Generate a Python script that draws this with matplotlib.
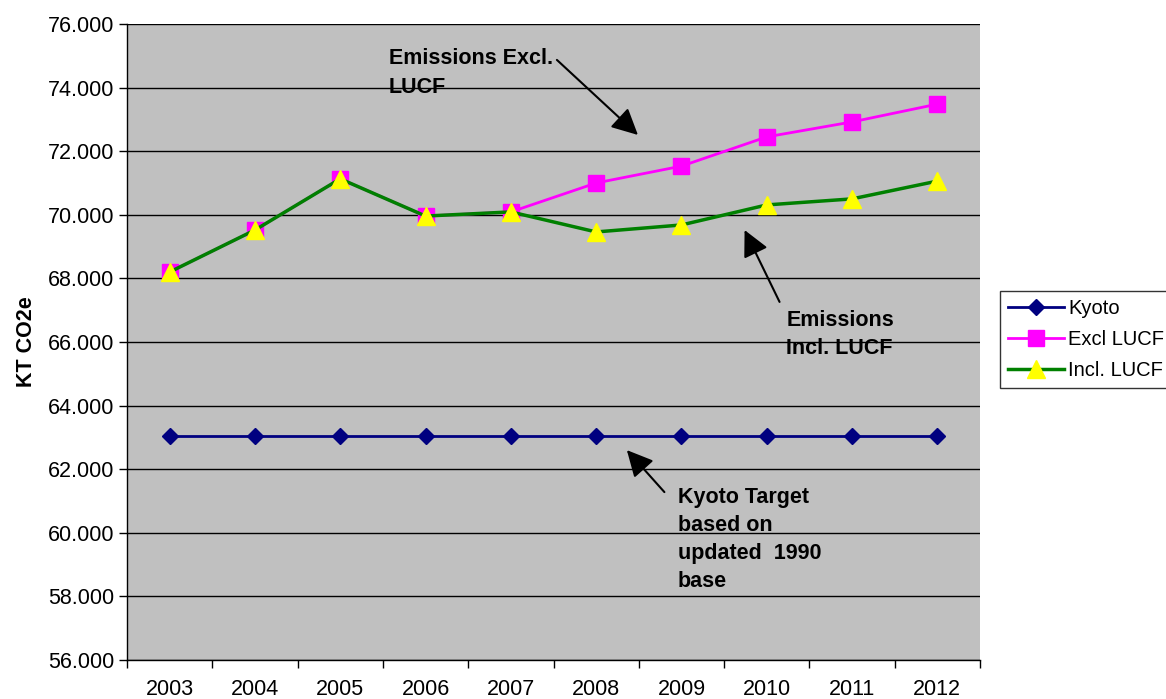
import numpy as np
import matplotlib.pyplot as plt
from matplotlib.ticker import FuncFormatter, FixedLocator

plt.rcParams['font.family'] = ['Liberation Sans', 'DejaVu Sans']

# Emissions series (kt CO2e)
years = ['2003', '2004', '2005', '2006', '2007', '2008', '2009', '2010', '2011', '2012']
kyoto = [63030] * 10
excl_lucf = [68200, 69520, 71130, 69960, 70090, 71000, 71530, 72450, 72920, 73480]
incl_lucf = [68200, 69520, 71130, 69960, 70090, 69460, 69680, 70310, 70500, 71060]

fs = 15.5

fig = plt.figure(figsize=(11.66, 6.99), dpi=100)
ax = fig.add_axes([0.1089, 0.0558, 0.7316, 0.9099])
ax.set_facecolor('#c0c0c0')

x = np.arange(len(years))
ax.plot(x, kyoto, color='#000080', lw=2, marker='D', ms=8, label='Kyoto')
ax.plot(x, excl_lucf, color='#ff00ff', lw=2, marker='s', ms=11, label='Excl LUCF')
ax.plot(x, incl_lucf, color='#008000', lw=2.5, marker='^', ms=13,
        mfc='#ffff00', mec='#ffff00', label='Incl. LUCF')

ax.set_xlim(-0.5, 9.5)
ax.set_ylim(56000, 76000)
ax.set_yticks(np.arange(56000, 76001, 2000))
ax.yaxis.set_major_formatter(FuncFormatter(lambda v, p: f'{v:,.0f}'.replace(',', '.')))
ax.grid(axis='y', color='black', lw=1)
ax.set_axisbelow(True)

ax.set_xticks(x)
ax.set_xticklabels(years)
ax.xaxis.set_minor_locator(FixedLocator(np.arange(-0.5, 10, 1)))
ax.tick_params(axis='x', which='major', length=0, pad=14, labelsize=fs)
ax.tick_params(axis='x', which='minor', length=6, width=1)
ax.tick_params(axis='y', length=6, width=1, labelsize=fs, pad=3)

for s in ['top', 'right']:
    ax.spines[s].set_visible(False)
for s in ['left', 'bottom']:
    ax.spines[s].set_color('black')
    ax.spines[s].set_linewidth(1)

ax.set_ylabel('KT CO2e', fontsize=fs, fontweight='bold', labelpad=8)

arrow = dict(arrowstyle='-|>', mutation_scale=40, color='black', lw=1.5, shrinkA=0, shrinkB=0)
ax.annotate('', xy=(5.49, 72510), xytext=(4.54, 74870), arrowprops=arrow)
ax.text(2.57, 75230, 'Emissions Excl.\nLUCF', fontsize=fs, fontweight='bold',
        va='top', ha='left', linespacing=1.47)
ax.annotate('', xy=(6.74, 69520), xytext=(7.15, 67260), arrowprops=arrow)
ax.text(7.23, 67010, 'Emissions\nIncl. LUCF', fontsize=fs, fontweight='bold',
        va='top', ha='left', linespacing=1.47)
ax.annotate('', xy=(5.36, 62600), xytext=(5.80, 61280), arrowprops=arrow)
ax.text(5.96, 61450, 'Kyoto Target\nbased on\nupdated  1990\nbase', fontsize=fs,
        fontweight='bold', va='top', ha='left', linespacing=1.45)

# legend box runs past the right edge of the figure
leg = fig.legend(loc='upper left', bbox_to_anchor=(1000 / 1166, 0, 0.2, 1 - 291 / 699),
                 mode='expand', fontsize=14.5, frameon=True, fancybox=False,
                 edgecolor='black', handlelength=2.8, borderpad=0.4, labelspacing=0.6,
                 handletextpad=0.2, borderaxespad=0)
leg.get_frame().set_linewidth(1)

fig.savefig('out.png', dpi=100)
